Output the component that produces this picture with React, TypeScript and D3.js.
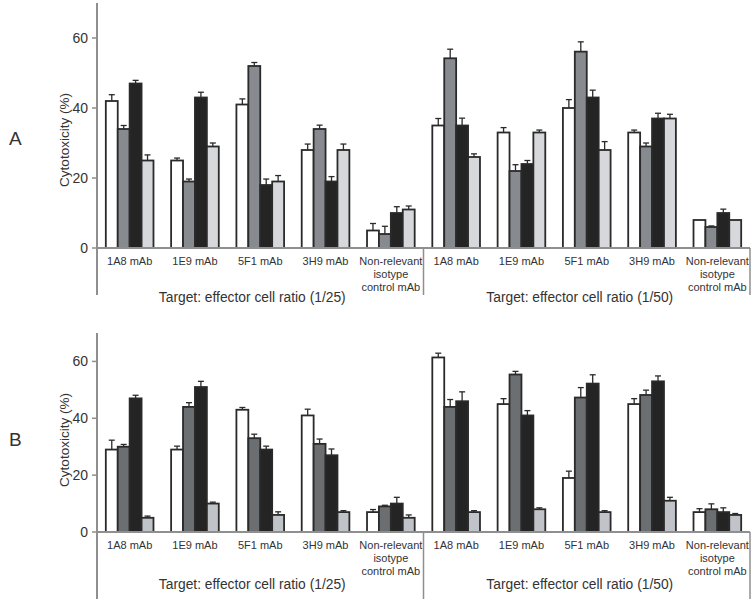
import React from "react";
import * as d3 from "d3";

// ---------- data ----------
const antibodies = ["1A8 mAb", "1E9 mAb", "5F1 mAb", "3H9 mAb", "Non-relevant|isotype|control mAb"];
const ratios = ["1/25", "1/50"];
const seriesNames = ["s1", "s2", "s3", "s4"];
const yTicks = [0, 20, 40, 60];
const panelLetters = ["A", "B"];

// Panel A (10 groups: 5 antibodies at 1/25, then 5 at 1/50)
const aWhite = [42, 25, 41, 28, 5, 35, 33, 40, 33, 8];
const aWhiteErr = [1.8, 0.7, 1.6, 1.7, 2, 2, 1.4, 2.4, 0.7, 0];
const aGray = [34, 19, 52, 34, 4, 54.2, 22, 56.1, 29, 6];
const aGrayErr = [1, 0.7, 1, 1.1, 2.2, 2.6, 1.8, 2.8, 1, 0.3];
const aBlack = [47, 43, 18, 19, 10, 35, 24, 43, 37, 10];
const aBlackErr = [0.9, 1.5, 1.7, 1.4, 1.8, 2.1, 1, 2.1, 1.5, 1.1];
const aLight = [25, 29, 19, 28, 11, 26, 33, 28, 37, 8];
const aLightErr = [1.6, 1, 1.7, 1.7, 1, 0.9, 0.7, 2.4, 1.2, 0];

// Panel B
const bWhite = [29, 29, 43, 41, 7, 61.4, 45, 19, 45, 7];
const bWhiteErr = [3.3, 1.2, 0.8, 2.2, 0.9, 1.5, 1.9, 2.4, 1.9, 1.2];
const bGray = [30, 44, 33, 31, 9, 44, 55.4, 47.3, 48.2, 8];
const bGrayErr = [0.8, 1.5, 1.4, 1.7, 0.4, 2.6, 1.1, 3.5, 1.7, 1.9];
const bBlack = [47, 51, 29, 27, 10, 46, 41, 52.2, 53, 7];
const bBlackErr = [1.1, 2, 1.2, 2.2, 2.2, 3.3, 1.7, 3.1, 1.9, 1.5];
const bLight = [5, 10, 6, 7, 5, 7, 8, 7, 11, 6];
const bLightErr = [0.6, 0.5, 1.1, 0.5, 1, 0.5, 0.5, 0.5, 1.2, 0.5];

// ---------- layout ----------
const W = 756;
const H = 600;
const X0 = 97;
const X1 = 750;
const FONT = "Liberation Sans, Arial, sans-serif";
const AXIS = "#8f8f8f";
const INK = "#2a2a2a";

const panels = [
  {
    letter: panelLetters[0],
    values: [aWhite, aGray, aBlack, aLight],
    errs: [aWhiteErr, aGrayErr, aBlackErr, aLightErr],
    colors: ["#ffffff", "#878b90", "#242424", "#d6d8dc"],
    y0: 248, yTop: 3, axisBottom: 295, labelY: 265, titleY: 302, letterY: 145, ylabelY: 140,
  },
  {
    letter: panelLetters[1],
    values: [bWhite, bGray, bBlack, bLight],
    errs: [bWhiteErr, bGrayErr, bBlackErr, bLightErr],
    colors: ["#ffffff", "#6b6f72", "#242424", "#c0c3c8"],
    y0: 532, yTop: 333, axisBottom: 599, labelY: 549, titleY: 589, letterY: 446, ylabelY: 440,
  },
];

const groupKeys = ratios.flatMap((r) => antibodies.map((a) => `${r}|${a}`));

const xGroup = d3.scaleBand<string>().domain(groupKeys).range([X0, X1]).paddingInner(0.27).paddingOuter(0.135);
const xBar = d3.scaleBand<string>().domain(seriesNames).range([0, xGroup.bandwidth()]).padding(0);

function Panel({ p }: { p: (typeof panels)[number] }) {
  const y = d3.scaleLinear().domain([0, 70]).range([p.y0, p.yTop]);
  const sepX = (xGroup(groupKeys[4])! + xGroup.bandwidth() + xGroup(groupKeys[5])!) / 2;
  const halfCenters = [(X0 + sepX) / 2 - 8, (sepX + X1) / 2 - 7];
  return (
    <g>
      {groupKeys.map((g, gi) => (
        <g key={g} transform={`translate(${xGroup(g)},0)`}>
          {seriesNames.map((s, si) => {
            const v = p.values[si][gi];
            const e = p.errs[si][gi];
            const bx = xBar(s)!;
            const bw = xBar.bandwidth();
            const cx = bx + bw / 2;
            return (
              <g key={s}>
                {e > 0 && (
                  <g stroke={INK} strokeWidth={1.3}>
                    <line x1={cx} x2={cx} y1={y(v)} y2={y(v + e)} />
                    <line x1={cx - 3} x2={cx + 3} y1={y(v + e)} y2={y(v + e)} />
                  </g>
                )}
                <rect x={bx} y={y(v)} width={bw} height={p.y0 - y(v)} fill={p.colors[si]} stroke={INK} strokeWidth={1.8} />
              </g>
            );
          })}
        </g>
      ))}
      <line x1={X0} x2={X0} y1={p.yTop} y2={p.axisBottom} stroke={AXIS} strokeWidth={2} />
      <line x1={X0} x2={X1} y1={p.y0} y2={p.y0} stroke={AXIS} strokeWidth={2} />
      <line x1={sepX} x2={sepX} y1={p.y0} y2={p.axisBottom} stroke={AXIS} strokeWidth={1.5} />
      <line x1={X1} x2={X1} y1={p.y0} y2={p.axisBottom} stroke={AXIS} strokeWidth={1.5} />
      {yTicks.map((t) => (
        <g key={t}>
          <line x1={X0 - 5} x2={X0} y1={y(t)} y2={y(t)} stroke={AXIS} strokeWidth={1.5} />
          <text x={X0 - 9} y={y(t) + 5} textAnchor="end" fontSize={14} fill="#333" fontFamily={FONT}>{t}</text>
        </g>
      ))}
      {groupKeys.map((g) => {
        const lines = g.split("|").slice(1);
        const cx = xGroup(g)! + xGroup.bandwidth() / 2;
        return (
          <text key={g} x={cx} textAnchor="middle" fontSize={11} fill="#333" fontFamily={FONT}>
            {lines.map((l, i) => (
              <tspan key={i} x={cx} y={p.labelY + i * 13}>{l}</tspan>
            ))}
          </text>
        );
      })}
      {ratios.map((r, i) => (
        <text key={r} x={halfCenters[i]} y={p.titleY} textAnchor="middle" fontSize={13.8} fill="#333" fontFamily={FONT}>
          {`Target: effector cell ratio (${r})`}
        </text>
      ))}
      <text transform={`translate(69,${p.ylabelY}) rotate(-90)`} textAnchor="middle" fontSize={13.5} fill="#333" fontFamily={FONT}>
        Cytotoxicity (%)
      </text>
      <text x={9} y={p.letterY} fontSize={19} fill="#333" fontFamily={FONT}>{p.letter}</text>
    </g>
  );
}

export default function App() {
  return (
    <svg width={W} height={H} style={{ position: "absolute", left: 0, top: 0, background: "#fff" }}>
      <rect width={W} height={H} fill="#fff" />
      {panels.map((p) => (
        <Panel key={p.letter} p={p} />
      ))}
    </svg>
  );
}
